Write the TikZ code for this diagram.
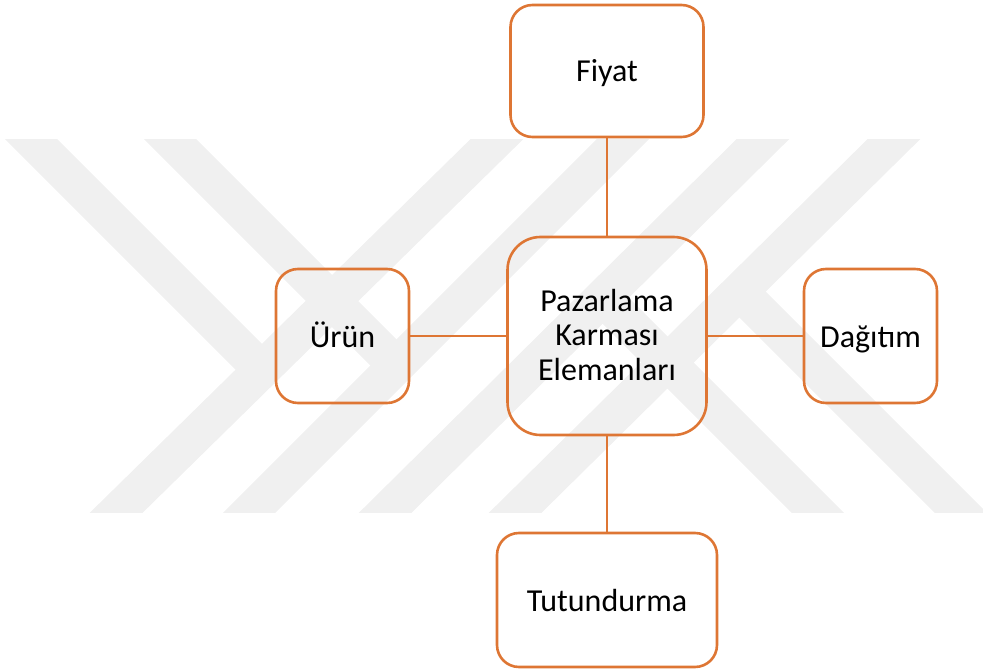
\documentclass[tikz,border=0pt]{standalone}
\usepackage{fontspec}
\setmainfont{Carlito}
\usetikzlibrary{calc}
\definecolor{boxline}{RGB}{222,118,52}
\definecolor{wmgray}{RGB}{240,240,240}
\begin{document}
\begin{tikzpicture}[x=1pt,y=-1pt,
  frame/.style={draw=boxline, line width=2.6pt, rounded corners=22pt, inner sep=0pt},
  label/.style={font=\fontsize{32}{34.5}\selectfont, align=center, inner sep=0pt},
  item/.style={frame, label, text height=22pt, text depth=0pt},
  link/.style={draw=boxline, line width=2.6pt},
  stripe/.style={draw=wmgray, line width=37pt}]
\useasboundingbox (0,0) rectangle (983,671);

% faint background emblem
\begin{scope}
  \clip (0,140) rectangle (983,512);
  \foreach \bx/\tx in {117/496, 250/622, 386/762, 516/893}
    \draw[stripe] ($(\bx,512)!-0.2!(\tx,140)$) -- ($(\tx,140)!-0.2!(\bx,512)$);
  \draw[stripe] (0,108) -- (261.8,369.8);
  \draw[stripe] (131,100) -- (396.5,365.5);
  \draw[stripe] (602.7,297.7) -- (865,560);
  \draw[stripe] (739.5,291.5) -- (1008,560);
\end{scope}

% boxes
\node[frame, minimum width=199pt, minimum height=198pt, rounded corners=33pt] (mix) at (607,336) {};
\node[label] (mixtext) at (607,335) {Pazarlama\\Karması\\Elemanları};
\node[item, minimum width=193pt, minimum height=132pt] (fiyat) at (607,71) {Fiyat};
\node[item, minimum width=133pt, minimum height=134pt] (urun) at (342.5,336) {Ürün};
\node[item, minimum width=133pt, minimum height=134pt] (dagitim) at (870.5,336) {Dağıtım};
\node[item, minimum width=220pt, minimum height=134pt] (tutun) at (607,600) {Tutundurma};

% connectors
\draw[link] (fiyat.south) -- (mix.north);
\draw[link] (mix.south) -- (tutun.north);
\draw[link] (urun.east) -- (mix.west);
\draw[link] (mix.east) -- (dagitim.west);
\end{tikzpicture}
\end{document}
